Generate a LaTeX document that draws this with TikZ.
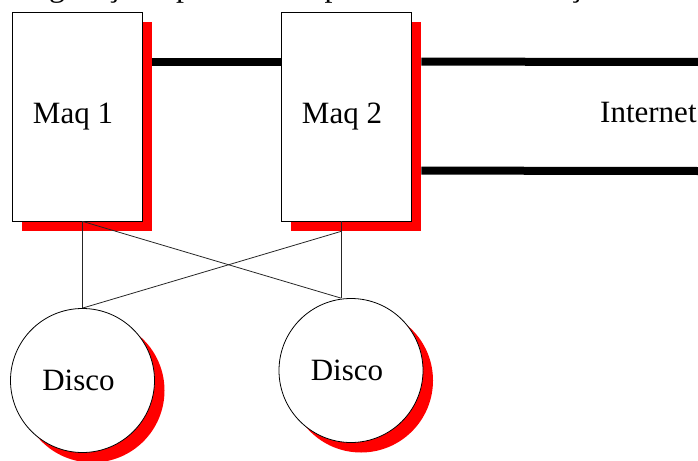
\documentclass[tikz,border=0pt]{standalone}
\usepackage{fontspec}
\setmainfont{Liberation Serif}
\usetikzlibrary{shadows}
\begin{document}
\begin{tikzpicture}[x=1pt,y=-1pt,
  redshadow/.style={drop shadow={shadow xshift=10pt, shadow yshift=-10pt, fill=red, opacity=1}},
  leftlabel/.style={execute at begin node={\hspace*{-8pt}}},
  maq/.style={rectangle, draw=black, line width=0.8pt, fill=white, inner sep=0pt,
    minimum width=130pt, minimum height=209pt, font=\fontsize{31}{31}\selectfont, redshadow, leftlabel},
  disco/.style={circle, draw=black, line width=0.8pt, fill=white, inner sep=0pt,
    minimum size=144pt, font=\fontsize{31}{31}\selectfont, redshadow, leftlabel},
  link/.style={draw=black!85, line width=0.8pt},
  net/.style={draw=black, line width=8pt}]
  \path[use as bounding box, clip] (0,0) rectangle (698,460);

  % title line, mostly above the page edge
  \node[anchor=base west, inner sep=0pt, font=\fontsize{32}{32}\selectfont] (title) at (-24,-3)
    {Configuração típica de um par com sincronização};

  % machines and disks
  \node[maq] (m1) at (77,116.5) {Maq 1};
  \node[maq] (m2) at (346,116.5) {Maq 2};
  \node[disco] (d1) at (82.5,380.5) {Disco};
  \node[disco] (d2) at (351,370.5) {Disco};

  % network lines
  \coordinate (n1) at ([shift={(10pt,-50pt)}]m1.north east);
  \coordinate (n2) at ([shift={(10pt,-50pt)}]m2.north east);
  \coordinate (n3) at ([shift={(10pt,-159pt)}]m2.north east);
  \coordinate (e1) at (698,62);
  \coordinate (e2) at (698,171);
  \draw[net] (n1) -- (m2.west |- n1);
  \draw[net] (n2) -- (e1);
  \draw[net] (n3) -- (e2);
  \node[anchor=base west, inner sep=0pt, font=\fontsize{31}{31}\selectfont] (inet) at (600,122) {Internet};

  % disk cabling
  \coordinate (p1) at (d1.north |- m1.south);
  \coordinate (p2) at ([xshift=-5pt]m2.south);
  \coordinate (q2) at (p2 |- d2.north);
  \draw[link] (p1) -- (d1.north);
  \draw[link] (p2) -- (q2);
  \draw[link] (p1) -- (q2);
  \draw[link] ([yshift=-10pt]p2) -- (d1.north);
\end{tikzpicture}
\end{document}
